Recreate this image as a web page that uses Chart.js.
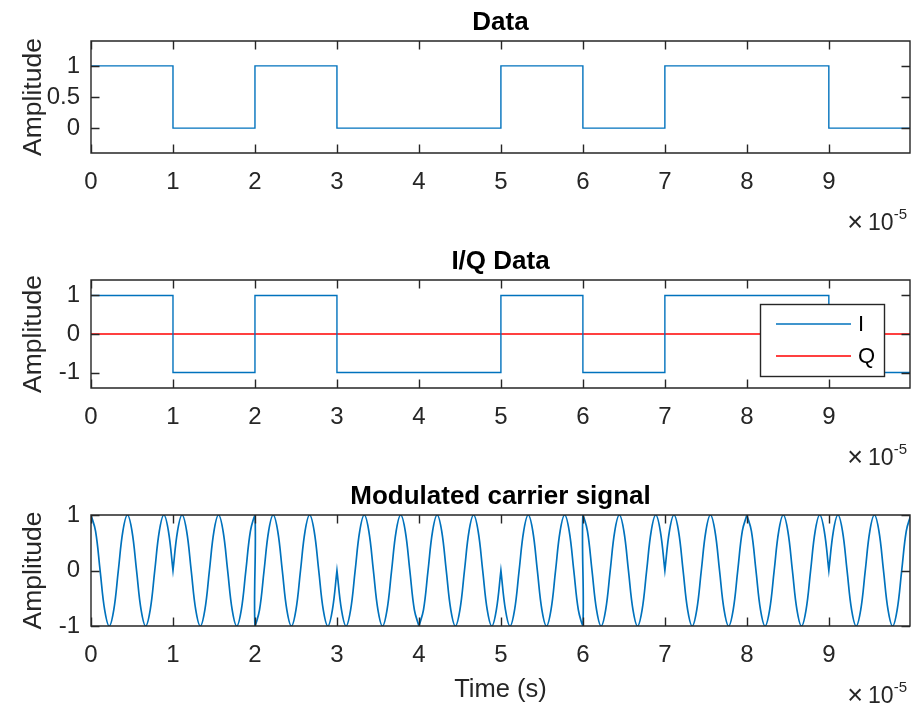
<!DOCTYPE html>
<html>
<head>
<meta charset="utf-8">
<script src="https://cdn.jsdelivr.net/npm/chart.js@4.4.1/dist/chart.umd.min.js"></script>
<style>
  html, body { margin: 0; padding: 0; background: #fff; }
  #fig { position: relative; width: 912px; height: 706px; overflow: hidden; }
  .panel { position: absolute; left: 0; width: 912px; }
</style>
</head>
<body>
<div id="fig">
  <div class="panel" style="top:0px"><canvas id="dataChart" width="912" height="240"></canvas></div>
  <div class="panel" style="top:240px"><canvas id="iqChart" width="912" height="234"></canvas></div>
  <div class="panel" style="top:474px"><canvas id="carrierChart" width="912" height="232"></canvas></div>
</div>
<script>
// time axis is in units of 1e-5 s
const bitStarts = [0, 1, 2, 3, 4, 5, 6, 7, 8, 9];
const tEnd = 9.99;
const xTicks = [0, 1, 2, 3, 4, 5, 6, 7, 8, 9];

const dataBits = [1, 0, 1, 0, 0, 1, 0, 1, 1, 0];
const iData = [1, -1, 1, -1, -1, 1, -1, 1, 1, -1];
const qData = [0, 0, 0, 0, 0, 0, 0, 0, 0, 0];

const dataYTicks = [0, 0.5, 1];
const iqYTicks = [-1, 0, 1];
const carrierYTicks = [-1, 0, 1];

// modulated carrier, read per bit at 1/18 steps (19 samples per bit, both edges)
const carrierStep = 1 / 18;
const carrier = [
  [1, .71, 0, -.71, -1, -.71, 0, .71, 1, .71, 0, -.71, -1, -.71, 0, .71, 1, .71, 0],
  [0, .71, 1, .71, 0, -.71, -1, -.71, 0, .71, 1, .71, 0, -.71, -1, -.71, 0, .71, 1],
  [-1, -.71, 0, .71, 1, .71, 0, -.71, -1, -.71, 0, .71, 1, .71, 0, -.71, -1, -.71, 0],
  [0, -.71, -1, -.71, 0, .71, 1, .71, 0, -.71, -1, -.71, 0, .71, 1, .71, 0, -.71, -1],
  [-1, -.71, 0, .71, 1, .71, 0, -.71, -1, -.71, 0, .71, 1, .71, 0, -.71, -1, -.71, 0],
  [0, -.71, -1, -.71, 0, .71, 1, .71, 0, -.71, -1, -.71, 0, .71, 1, .71, 0, -.71, -1],
  [1, .71, 0, -.71, -1, -.71, 0, .71, 1, .71, 0, -.71, -1, -.71, 0, .71, 1, .71, 0],
  [0, .71, 1, .71, 0, -.71, -1, -.71, 0, .71, 1, .71, 0, -.71, -1, -.71, 0, .71, 1],
  [1, .71, 0, -.71, -1, -.71, 0, .71, 1, .71, 0, -.71, -1, -.71, 0, .71, 1, .71, 0],
  [0, .71, 1, .71, 0, -.71, -1, -.71, 0, .71, 1, .71, 0, -.71, -1, -.71, 0, .71, 1]
];

const BLUE = '#0072BD';
const RED = '#FF0000';
const AXIS = '#262626';
const FONT = "'Liberation Sans', Arial, sans-serif";

function stepPoints(values) {
  let pts = values.map((v, i) => ({x: bitStarts[i], y: v}));
  pts.push({x: tEnd, y: values[values.length - 1]});
  return pts;
}

function carrierPoints() {
  let pts = [];
  carrier.forEach((row, n) => {
    row.forEach((v, k) => pts.push({x: bitStarts[n] + k * carrierStep, y: v}));
  });
  return pts;
}

// MATLAB-like box with inward ticks and the x10^-5 exponent
const axesBox = {
  id: 'axesBox',
  afterDatasetsDraw(chart) {
    let ctx = chart.ctx, a = chart.chartArea;
    let xs = chart.scales.x, ys = chart.scales.y;
    let len = 8.5;
    ctx.save();
    ctx.strokeStyle = AXIS;
    ctx.lineWidth = 1.4;
    ctx.beginPath();
    xs.ticks.forEach(t => {
      let px = Math.round(xs.getPixelForValue(t.value)) + 0.5;
      ctx.moveTo(px, a.bottom); ctx.lineTo(px, a.bottom - len);
      ctx.moveTo(px, a.top); ctx.lineTo(px, a.top + len);
    });
    ys.ticks.forEach(t => {
      let py = Math.round(ys.getPixelForValue(t.value)) + 0.5;
      ctx.moveTo(a.left, py); ctx.lineTo(a.left + len, py);
      ctx.moveTo(a.right, py); ctx.lineTo(a.right - len, py);
    });
    ctx.rect(a.left, a.top, a.right - a.left, a.bottom - a.top);
    ctx.stroke();

    // exponent label
    let base = a.bottom + 77;
    ctx.fillStyle = AXIS;
    ctx.textBaseline = 'alphabetic';
    ctx.textAlign = 'right';
    ctx.font = '15px ' + FONT;
    let supRight = a.right - 3;
    ctx.fillText('-5', supRight, base - 11);
    let supW = ctx.measureText('-5').width;
    ctx.font = '23px ' + FONT;
    let tenRight = supRight - supW;
    ctx.fillText('10', tenRight, base);
    let tenW = ctx.measureText('10').width;
    ctx.font = '27px ' + FONT;
    ctx.fillText('\u00D7', tenRight - tenW - 5, base + 1);
    ctx.restore();
  }
};

const iqLegend = {
  id: 'iqLegend',
  afterDraw(chart) {
    if (!chart.options.plugins.iqLegend) return;
    let ctx = chart.ctx, a = chart.chartArea;
    let left = a.right - 150, top = a.top + 24, w = 124, h = 72;
    ctx.save();
    ctx.fillStyle = '#fff';
    ctx.fillRect(left, top, w, h);
    ctx.strokeStyle = AXIS;
    ctx.lineWidth = 1.4;
    ctx.strokeRect(left + 0.5, top + 0.5, w, h);
    ctx.font = '22px ' + FONT;
    ctx.textBaseline = 'middle';
    ctx.textAlign = 'left';
    chart.data.datasets.forEach((ds, i) => {
      let yy = top + 20 + i * 32;
      ctx.strokeStyle = ds.borderColor;
      ctx.lineWidth = 1.4;
      ctx.beginPath();
      ctx.moveTo(left + 16, yy);
      ctx.lineTo(left + 91, yy);
      ctx.stroke();
      ctx.fillStyle = '#000';
      ctx.fillText(ds.label, left + 98, yy + 1);
    });
    ctx.restore();
  }
};

function makeOptions(cfg) {
  return {
    responsive: false,
    animation: false,
    layout: {padding: {left: 0, right: 2, top: 0, bottom: 0}},
    elements: {point: {radius: 0}},
    plugins: {
      legend: {display: false},
      tooltip: {enabled: false},
      iqLegend: cfg.legend || false,
      title: {
        display: true,
        fullSize: false,
        text: cfg.title,
        color: '#000',
        font: {family: FONT, size: 26, weight: 'bold', lineHeight: '30px'},
        padding: {top: cfg.titleTop, bottom: 3}
      }
    },
    scales: {
      x: {
        type: 'linear',
        min: 0,
        max: tEnd,
        grid: {display: false, drawTicks: false},
        border: {display: false},
        afterBuildTicks: s => { s.ticks = xTicks.map(v => ({value: v})); },
        afterFit: s => { s.height = cfg.xHeight; },
        ticks: {color: AXIS, font: {family: FONT, size: 24}, padding: 15, maxRotation: 0,
                callback: v => String(v)},
        title: {
          display: !!cfg.xTitle,
          text: cfg.xTitle || '',
          color: AXIS,
          font: {family: FONT, size: 25.5, lineHeight: 1.2},
          padding: {top: 0, bottom: 1}
        }
      },
      y: {
        min: cfg.yMin,
        max: cfg.yMax,
        grid: {display: false, drawTicks: false},
        border: {display: false},
        afterBuildTicks: s => { s.ticks = cfg.yTicks.map(v => ({value: v})); },
        afterFit: s => { s.width = 91; },
        ticks: {color: AXIS, font: {family: FONT, size: 24}, padding: 11,
                callback: v => String(v)},
        title: {
          display: true,
          text: 'Amplitude',
          color: AXIS,
          font: {family: FONT, size: 26.5, lineHeight: 1.2},
          padding: {top: 18, bottom: 0}
        }
      }
    }
  };
}

new Chart(document.getElementById('dataChart'), {
  type: 'line',
  data: {
    datasets: [{
      label: 'Data',
      data: stepPoints(dataBits),
      borderColor: BLUE,
      borderWidth: 1.4,
      stepped: true,
      fill: false
    }]
  },
  options: makeOptions({title: 'Data', titleTop: 8, xHeight: 87, yMin: -0.4, yMax: 1.4, yTicks: dataYTicks}),
  plugins: [axesBox]
});

new Chart(document.getElementById('iqChart'), {
  type: 'line',
  data: {
    datasets: [{
      label: 'I',
      data: stepPoints(iData),
      borderColor: BLUE,
      borderWidth: 1.4,
      stepped: true,
      fill: false
    }, {
      label: 'Q',
      data: stepPoints(qData),
      borderColor: RED,
      borderWidth: 1.4,
      stepped: true,
      fill: false
    }]
  },
  options: makeOptions({title: 'I/Q Data', titleTop: 7, xHeight: 86, yMin: -1.4, yMax: 1.4, yTicks: iqYTicks, legend: true}),
  plugins: [axesBox, iqLegend]
});

new Chart(document.getElementById('carrierChart'), {
  type: 'line',
  data: {
    datasets: [{
      label: 'Modulated carrier',
      data: carrierPoints(),
      borderColor: BLUE,
      borderWidth: 1.7,
      tension: 0.4,
      fill: false
    }]
  },
  options: makeOptions({title: 'Modulated carrier signal', titleTop: 8, xHeight: 80, yMin: -1, yMax: 1,
                        yTicks: carrierYTicks, xTitle: 'Time (s)'}),
  plugins: [axesBox]
});
</script>
</body>
</html>
